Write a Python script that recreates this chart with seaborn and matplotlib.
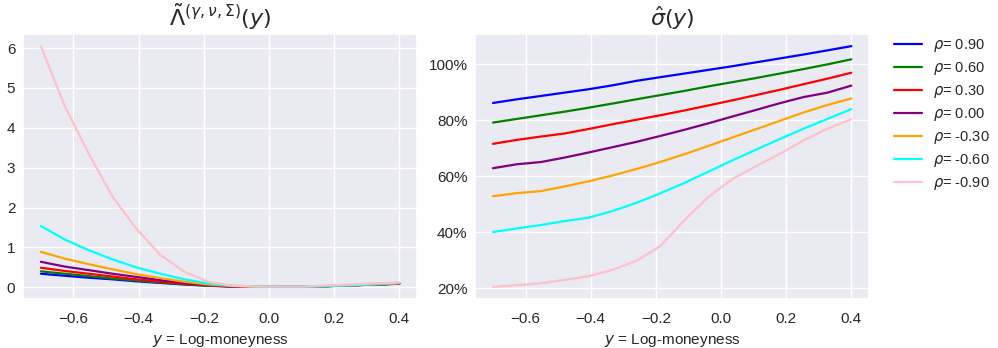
import numpy as np
import pandas as pd
import matplotlib
matplotlib.use("Agg")
import matplotlib.pyplot as plt
import seaborn as sns
from matplotlib.ticker import PercentFormatter

# log-moneyness grid (16 points between -0.7 and 0.4)
log_moneyness = [-0.700, -0.627, -0.553, -0.480, -0.407, -0.333, -0.260, -0.187,
                 -0.113, -0.040, 0.033, 0.107, 0.180, 0.253, 0.327, 0.400]

rhos = [0.90, 0.60, 0.30, 0.00, -0.30, -0.60, -0.90]
colors = ['blue', 'green', 'red', 'purple', 'orange', 'cyan', 'pink']

# Lambda tilde, one list per rho
lam_090 = [0.34, 0.29, 0.24, 0.20, 0.15, 0.11, 0.07, 0.04, 0.02, 0.01, 0.01, 0.01, 0.03, 0.05, 0.07, 0.09]
lam_060 = [0.40, 0.34, 0.28, 0.22, 0.17, 0.12, 0.08, 0.04, 0.02, 0.01, 0.01, 0.01, 0.03, 0.05, 0.07, 0.09]
lam_030 = [0.49, 0.41, 0.34, 0.27, 0.20, 0.14, 0.09, 0.05, 0.02, 0.01, 0.01, 0.01, 0.03, 0.05, 0.07, 0.09]
lam_000 = [0.64, 0.52, 0.43, 0.34, 0.26, 0.18, 0.11, 0.06, 0.02, 0.01, 0.01, 0.01, 0.03, 0.05, 0.07, 0.10]
lam_m030 = [0.89, 0.72, 0.58, 0.45, 0.33, 0.23, 0.14, 0.07, 0.03, 0.01, 0.01, 0.01, 0.03, 0.05, 0.07, 0.10]
lam_m060 = [1.54, 1.20, 0.93, 0.70, 0.50, 0.34, 0.20, 0.10, 0.04, 0.02, 0.01, 0.01, 0.03, 0.05, 0.08, 0.11]
lam_m090 = [6.05, 4.55, 3.35, 2.27, 1.47, 0.81, 0.39, 0.14, 0.04, 0.02, 0.02, 0.02, 0.05, 0.07, 0.10, 0.12]

# implied vol in percent, one list per rho
vol_090 = [86.1, 87.4, 88.6, 89.8, 91.0, 92.4, 94.0, 95.3, 96.6, 97.9, 99.2, 100.6, 102.0, 103.4, 104.9, 106.4]
vol_060 = [79.1, 80.4, 81.7, 83.0, 84.4, 85.9, 87.4, 88.9, 90.4, 92.0, 93.5, 95.0, 96.6, 98.2, 99.9, 101.7]
vol_030 = [71.5, 72.9, 74.1, 75.2, 76.8, 78.5, 80.1, 81.7, 83.4, 85.2, 87.0, 88.9, 90.8, 92.8, 94.8, 96.9]
vol_000 = [62.8, 64.2, 65.0, 66.6, 68.4, 70.3, 72.2, 74.3, 76.5, 78.8, 81.2, 83.6, 86.0, 88.2, 89.8, 92.3]
vol_m030 = [52.8, 53.9, 54.6, 56.3, 58.1, 60.2, 62.5, 65.0, 67.8, 70.7, 73.7, 76.7, 79.7, 82.7, 85.4, 87.7]
vol_m060 = [40.0, 41.3, 42.5, 43.9, 45.1, 47.5, 50.4, 53.8, 57.5, 61.5, 65.5, 69.4, 73.2, 76.9, 80.4, 83.9]
vol_m090 = [20.4, 21.0, 21.7, 22.9, 24.2, 26.5, 29.7, 34.9, 44.1, 52.4, 58.8, 63.5, 67.9, 72.7, 76.9, 80.3]

lam_series = [lam_090, lam_060, lam_030, lam_000, lam_m030, lam_m060, lam_m090]
vol_series = [vol_090, vol_060, vol_030, vol_000, vol_m030, vol_m060, vol_m090]

labels = [r'$\rho$= ' + f'{r:.2f}' for r in rhos]
palette = dict(zip(labels, colors))

rows = []
for label, lam, vol in zip(labels, lam_series, vol_series):
    for y, l, v in zip(log_moneyness, lam, vol):
        rows.append({'y': y, 'lam': l, 'vol': v, 'rho': label})
df = pd.DataFrame(rows)

sns.set_theme(style="darkgrid")
plt.rcParams['font.family'] = ['Liberation Sans', 'DejaVu Sans']

fig, axes = plt.subplots(1, 2, figsize=(9.98, 3.48), dpi=100)
fig.subplots_adjust(left=0.023, right=0.871, bottom=0.141, top=0.902, wspace=0.147)

sns.lineplot(data=df, x='y', y='lam', hue='rho', hue_order=labels, palette=palette,
             ax=axes[0], legend=False, linewidth=1.6)
axes[0].set_title(r'$\tilde{\Lambda}^{(\gamma,\nu,\Sigma)}(y)$', fontsize=16)
axes[0].set_xlabel(r'$y$ = Log-moneyness', fontsize=11)
axes[0].set_ylabel('')

sns.lineplot(data=df, x='y', y='vol', hue='rho', hue_order=labels, palette=palette,
             ax=axes[1], linewidth=1.6)
axes[1].set_title(r'$\hat{\sigma}(y)$', fontsize=16)
axes[1].set_xlabel(r'$y$ = Log-moneyness', fontsize=11)
axes[1].set_ylabel('')
axes[1].yaxis.set_major_formatter(PercentFormatter(100, decimals=0))
axes[1].set_yticks([20, 40, 60, 80, 100])

for ax in axes:
    ax.tick_params(labelsize=11)
    ax.tick_params(axis='y', length=0, pad=5.5)

axes[1].legend(loc='upper left', bbox_to_anchor=(1.03, 1.04), frameon=False, fontsize=10.5,
               handlelength=1.9, handletextpad=0.75, labelspacing=0.42)

plt.savefig('out.png', dpi=100)
